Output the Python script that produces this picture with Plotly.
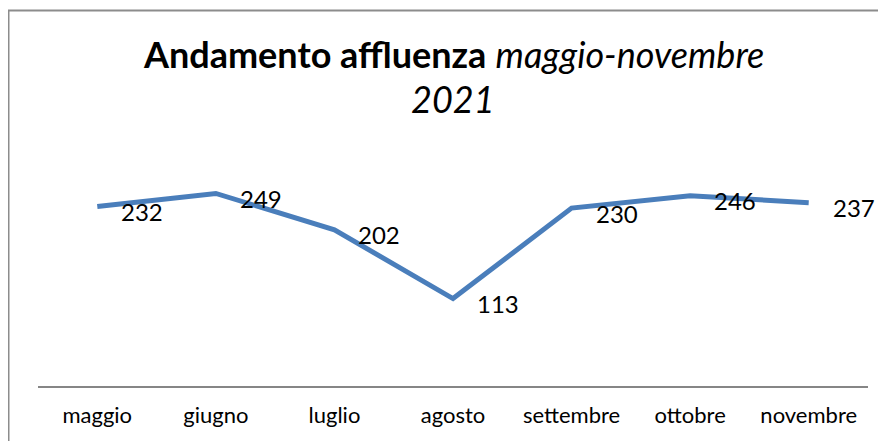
import plotly.graph_objects as go

months = ["maggio", "giugno", "luglio", "agosto", "settembre", "ottobre", "novembre"]
values = [232, 249, 202, 113, 230, 246, 237]
title_line1 = "<b>Andamento affluenza</b> <i>maggio-novembre</i>"
title_line2 = "<i>2021</i>"

FONT = "Lato"
W, H = 878, 433
L, R, T, B = 30, 18, 146, 55
pw, ph = W - L - R, H - T - B


def py(pix):
    """figure-pixel y -> paper fraction"""
    return (H - B - pix) / ph


def px(pix):
    return (pix - L) / pw


fig = go.Figure()
fig.add_trace(go.Scatter(
    x=months, y=values, mode="lines",
    line=dict(color="#4A7EBB", width=5),
    hoverinfo="skip", showlegend=False,
))

for m, v in zip(months, values):
    fig.add_annotation(x=m, y=v, text=str(v), showarrow=False,
                       xanchor="left", yanchor="middle", xshift=22, yshift=-5,
                       font=dict(family=FONT, size=24, color="#000000"))

fig.add_annotation(text=title_line1, xref="paper", yref="paper", x=0.5, y=py(46),
                   xanchor="center", yanchor="middle", showarrow=False,
                   font=dict(family=FONT, size=36, color="#000000"))
fig.add_annotation(text=title_line2, xref="paper", yref="paper", x=0.5, y=py(91),
                   xanchor="center", yanchor="middle", showarrow=False,
                   font=dict(family=FONT, size=36, color="#000000"))

# chart border
fig.add_shape(type="rect", xref="paper", yref="paper",
              x0=px(0.5), x1=px(W + 20), y0=py(H + 20), y1=py(2.5),
              line=dict(color="#8C8C8C", width=2), fillcolor="rgba(0,0,0,0)", layer="below")

fig.update_layout(
    width=W, height=H,
    margin=dict(l=L, r=R, t=T, b=B),
    paper_bgcolor="white", plot_bgcolor="white",
    xaxis=dict(showline=True, linecolor="#868686", linewidth=2, showgrid=False,
               ticks="", tickfont=dict(family=FONT, size=22, color="#000000"),
               ticklabelstandoff=9, fixedrange=True, range=[-0.5, 6.5]),
    yaxis=dict(range=[0, 300], visible=False, showgrid=False, zeroline=False, fixedrange=True),
    font=dict(family=FONT),
)

fig.write_html("out.html")
